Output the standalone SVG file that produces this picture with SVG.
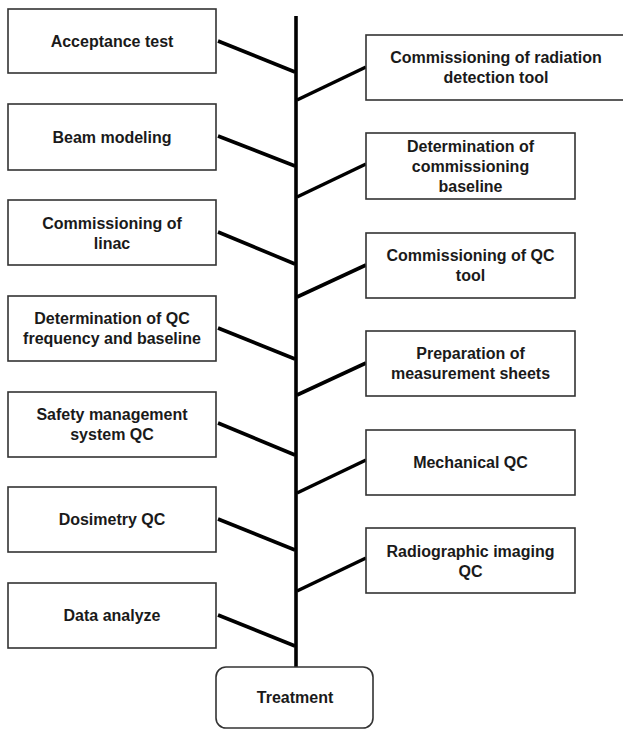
<svg xmlns="http://www.w3.org/2000/svg" width="623" height="730" viewBox="0 0 623 730">
<style>
.box{fill:#fff;stroke:#333;stroke-width:1.6}
.lbl{font-family:"Liberation Sans",Arial,sans-serif;font-weight:bold;font-size:16px;fill:#1a1a1a;text-anchor:middle}
.con{stroke:#000;stroke-width:3.6;fill:none;stroke-linecap:butt}
</style>
<rect width="623" height="730" fill="#fff"/>
<g id="connectors">
<line class="con" x1="296" y1="16" x2="296" y2="667"/>
<line class="con" x1="218" y1="41" x2="295" y2="72"/>
<line class="con" x1="218" y1="136" x2="295" y2="166"/>
<line class="con" x1="218" y1="232" x2="295" y2="264"/>
<line class="con" x1="218" y1="328" x2="295" y2="359"/>
<line class="con" x1="218" y1="423" x2="295" y2="455"/>
<line class="con" x1="218" y1="519" x2="295" y2="550"/>
<line class="con" x1="218" y1="615" x2="295" y2="646"/>
<line class="con" x1="297" y1="100" x2="366" y2="67"/>
<line class="con" x1="297" y1="197" x2="366" y2="164"/>
<line class="con" x1="297" y1="297" x2="366" y2="265"/>
<line class="con" x1="297" y1="395" x2="366" y2="363"/>
<line class="con" x1="297" y1="493" x2="366" y2="460"/>
<line class="con" x1="297" y1="591" x2="366" y2="558"/>
</g>
<g id="acceptance-test"><rect class="box" x="8" y="9" width="208" height="64"/><text class="lbl" x="112" y="47">Acceptance test</text></g>
<g id="beam-modeling"><rect class="box" x="8" y="104" width="208" height="66"/><text class="lbl" x="112" y="143">Beam modeling</text></g>
<g id="commissioning-linac"><rect class="box" x="8" y="200" width="208" height="65"/><text class="lbl" x="112" y="229">Commissioning of</text><text class="lbl" x="112" y="249">linac</text></g>
<g id="qc-frequency"><rect class="box" x="8" y="296" width="208" height="65"/><text class="lbl" x="112" y="324">Determination of QC</text><text class="lbl" x="112" y="344">frequency and baseline</text></g>
<g id="safety-qc"><rect class="box" x="8" y="392" width="208" height="65"/><text class="lbl" x="112" y="420">Safety management</text><text class="lbl" x="112" y="440">system QC</text></g>
<g id="dosimetry-qc"><rect class="box" x="8" y="487" width="208" height="65"/><text class="lbl" x="112" y="525">Dosimetry QC</text></g>
<g id="data-analyze"><rect class="box" x="8" y="583" width="208" height="65"/><text class="lbl" x="112" y="621">Data analyze</text></g>
<g id="radiation-detection-tool"><rect class="box" x="366" y="35" width="264" height="65"/><text class="lbl" x="496" y="63">Commissioning of radiation</text><text class="lbl" x="496" y="83">detection tool</text></g>
<g id="commissioning-baseline"><rect class="box" x="366" y="133" width="209" height="66"/><text class="lbl" x="470.5" y="152">Determination of</text><text class="lbl" x="470.5" y="172">commissioning</text><text class="lbl" x="470.5" y="192">baseline</text></g>
<g id="qc-tool"><rect class="box" x="366" y="233" width="209" height="65"/><text class="lbl" x="470.5" y="261">Commissioning of QC</text><text class="lbl" x="470.5" y="281">tool</text></g>
<g id="measurement-sheets"><rect class="box" x="366" y="331" width="209" height="65"/><text class="lbl" x="470.5" y="359">Preparation of</text><text class="lbl" x="470.5" y="379">measurement sheets</text></g>
<g id="mechanical-qc"><rect class="box" x="366" y="430" width="209" height="65"/><text class="lbl" x="470.5" y="468">Mechanical QC</text></g>
<g id="radiographic-qc"><rect class="box" x="366" y="528" width="209" height="65"/><text class="lbl" x="470.5" y="557">Radiographic imaging</text><text class="lbl" x="470.5" y="577">QC</text></g>
<g id="treatment"><rect class="box" x="216" y="667" width="157" height="61" rx="10"/><text class="lbl" x="295" y="703">Treatment</text></g>
</svg>
